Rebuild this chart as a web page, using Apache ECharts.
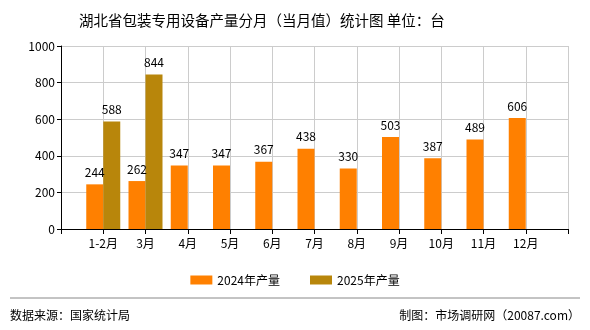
<!DOCTYPE html>
<html>
<head>
<meta charset="utf-8">
<script src="https://cdn.jsdelivr.net/npm/echarts@6/dist/echarts.min.js"></script>
<style>
  html, body { margin: 0; padding: 0; background: #fff; }
  #chart { width: 590px; height: 330px; }
</style>
</head>
<body>
<div id="chart"></div>
<script>
// Monthly output of packaging equipment in Hubei (units: 台)
const months = ['1-2月', '3月', '4月', '5月', '6月', '7月', '8月', '9月', '10月', '11月', '12月'];
const output2024 = [244, 262, 347, 347, 367, 438, 330, 503, 387, 489, 606];
const output2025 = [588, 844];
const seriesNames = ['2024年产量', '2025年产量'];
const yTicks = [0, 200, 400, 600, 800, 1000];

const FONT = '"Noto Sans CJK SC", "Noto Sans", sans-serif';

// Pad the category axis with an empty slot at each end
const axisCats = [''].concat(months, ['']);
function pad(values) {
  const out = ['-'];
  for (let i = 0; i < months.length; i++) {
    out.push(i < values.length ? values[i] : '-');
  }
  out.push('-');
  return out;
}

const chart = echarts.init(document.getElementById('chart'), null, { renderer: 'canvas' });

const labelStyle = {
  show: true,
  position: 'top',
  distance: 6,
  color: '#000',
  fontSize: 12,
  fontFamily: FONT
};

chart.setOption({
  animation: false,
  backgroundColor: '#fff',
  title: {
    text: '湖北省包装专用设备产量分月（当月值）统计图 单位：台',
    left: 74,
    top: 8,
    textStyle: { fontSize: 14.5, fontWeight: 'normal', color: '#000', fontFamily: FONT }
  },
  legend: {
    data: seriesNames,
    left: 'center',
    top: 269,
    icon: 'rect',
    itemWidth: 22,
    itemHeight: 9,
    itemGap: 30,
    textStyle: { fontSize: 12, color: '#000', fontFamily: FONT }
  },
  grid: { left: 61, right: 22, top: 46, bottom: 101, containLabel: false },
  xAxis: {
    type: 'category',
    data: axisCats,
    boundaryGap: false,
    axisLine: { lineStyle: { color: '#000', width: 1 } },
    axisTick: { show: true, length: 5, lineStyle: { color: '#000' } },
    axisLabel: { color: '#000', fontSize: 12, fontFamily: FONT, margin: 8, interval: 0 },
    splitLine: { show: true, lineStyle: { color: '#ccc', width: 1 } }
  },
  yAxis: {
    type: 'value',
    min: yTicks[0],
    max: yTicks[yTicks.length - 1],
    interval: yTicks[1] - yTicks[0],
    axisLine: { show: true, lineStyle: { color: '#000', width: 1 } },
    axisTick: { show: true, length: 4, lineStyle: { color: '#000' } },
    axisLabel: { color: '#000', fontSize: 12, fontFamily: FONT, margin: 6, formatter: (v) => String(v) },
    splitLine: { show: true, lineStyle: { color: '#ccc', width: 1 } }
  },
  series: [
    {
      name: seriesNames[0],
      type: 'bar',
      data: pad(output2024),
      barWidth: 17,
      barGap: '0%',
      itemStyle: { color: '#FF8000' },
      label: labelStyle
    },
    {
      name: seriesNames[1],
      type: 'bar',
      data: pad(output2025),
      barWidth: 17,
      barGap: '0%',
      itemStyle: { color: '#B8860B' },
      label: labelStyle
    }
  ],
  graphic: [
    {
      type: 'line',
      shape: { x1: 10, y1: 298, x2: 580, y2: 298 },
      style: { stroke: '#888', lineWidth: 1 }
    },
    {
      type: 'text',
      left: 10,
      top: 309,
      style: { text: '数据来源：国家统计局', fill: '#000', font: '12px ' + FONT }
    },
    {
      type: 'text',
      right: 10,
      top: 309,
      style: { text: '制图：市场调研网（20087.com）', fill: '#000', font: '12px ' + FONT }
    }
  ]
});
</script>
</body>
</html>
